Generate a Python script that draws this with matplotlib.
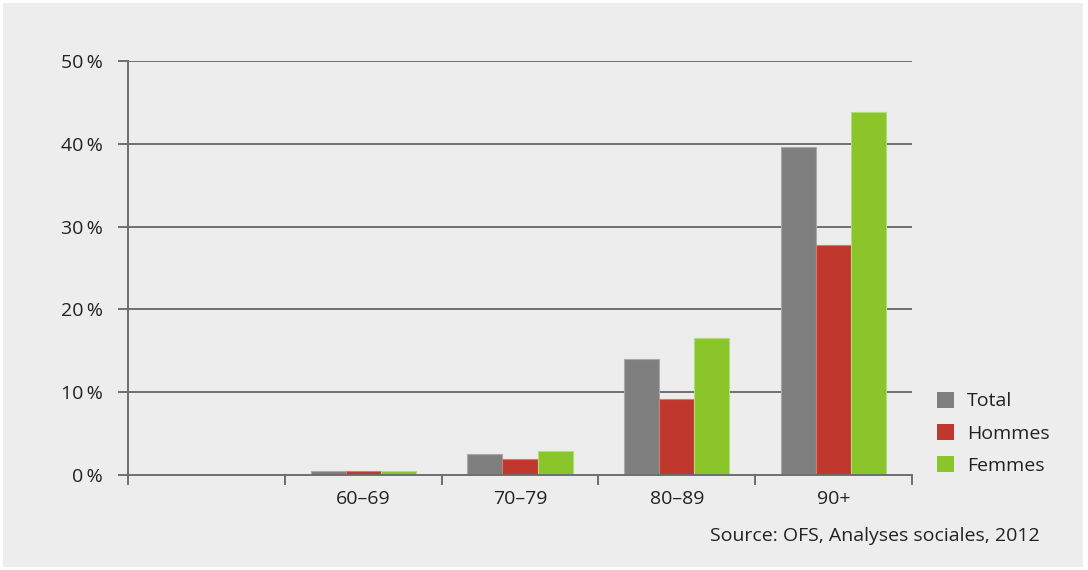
import numpy as np
import matplotlib.pyplot as plt
from matplotlib.patches import Rectangle

plt.rcParams['font.family'] = ['Open Sans', 'DejaVu Sans']

# data (percent)
categories = ['', '60–69', '70–79', '80–89', '90+']
total = [np.nan, 0.52, 2.5, 14.0, 39.6]
hommes = [np.nan, 0.48, 1.97, 9.2, 27.8]
femmes = [np.nan, 0.5, 2.86, 16.6, 43.8]
series_names = ['Total', 'Hommes', 'Femmes']
colors = ['#7f7f7f', '#c0372d', '#8ac52a']
edges = ['#a8a8a8', '#d8786f', '#b4dc78']
yticks = [0, 10, 20, 30, 40, 50]

fs = 14

fig = plt.figure(figsize=(10.88, 5.70), dpi=100, facecolor='white')
bg = Rectangle((3 / 1088, 3 / 570), 1080 / 1088, 564 / 570,
               transform=fig.transFigure, facecolor='#ededed',
               edgecolor='none', zorder=-10)
fig.add_artist(bg)
ax = fig.add_axes([128 / 1088, 1 - 475 / 570, 784 / 1088, 414 / 570])
ax.set_facecolor('none')

x = np.arange(len(categories))
w = 0.224
for k, vals in enumerate([total, hommes, femmes]):
    ax.bar(x + (k - 1) * w, vals, width=w, color=colors[k], edgecolor=edges[k],
           linewidth=0.8, label=series_names[k], zorder=3)

ax.set_xlim(-0.5, len(categories) - 0.5)
ax.set_ylim(0, 50)

grid_col = '#6e6e6e'
for t in yticks[1:]:
    ax.axhline(t, color=grid_col, linewidth=1.4, zorder=2)

for s in ['top', 'right']:
    ax.spines[s].set_visible(False)
for s in ['left', 'bottom']:
    ax.spines[s].set_color(grid_col)
    ax.spines[s].set_linewidth(1.4)
    ax.spines[s].set_zorder(4)

ax.set_yticks(yticks)
ax.set_yticklabels([f'{t}\u2009%' for t in yticks])
ax.tick_params(axis='y', length=7.2, width=1.4, color=grid_col, pad=11,
               labelsize=fs, labelcolor='#222222')

ax.set_xticks(np.arange(len(categories) + 1) - 0.5, minor=False)
ax.set_xticklabels([])
ax.set_xticks(x, minor=True)
ax.set_xticklabels(categories, minor=True)
ax.tick_params(axis='x', which='major', length=7, width=1.4, color=grid_col)
ax.tick_params(axis='x', which='minor', length=0, pad=11, labelsize=fs,
               labelcolor='#222222')

leg = ax.legend(loc='upper left', bbox_to_anchor=(937 / 1088, 1 - 392 / 570),
                bbox_transform=fig.transFigure, frameon=False, fontsize=fs,
                handlelength=0.85, handleheight=0.85, handletextpad=0.7,
                labelspacing=0.7, borderpad=0, borderaxespad=0)
for t in leg.get_texts():
    t.set_color('#222222')
for h in leg.legend_handles:
    h.set_edgecolor('none')

fig.text(1040 / 1088, 1 - 536 / 570, 'Source: OFS, Analyses sociales, 2012',
         ha='right', va='center', fontsize=fs, color='#222222')

fig.savefig('out.png', dpi=100, facecolor=fig.get_facecolor())
